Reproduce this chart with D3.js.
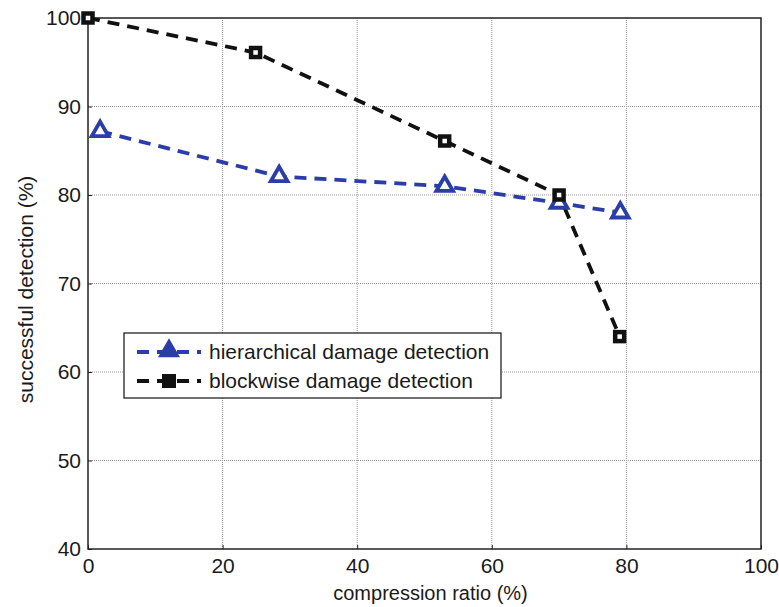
<!DOCTYPE html>
<html>
<head>
<meta charset="utf-8">
<script src="https://cdn.jsdelivr.net/npm/d3@7"></script>
<style>
  body { margin: 0; background: #fff; }
  text { font-family: "Liberation Sans", Arial, sans-serif; fill: #1a1a1a; }
</style>
</head>
<body>
<div id="chart"></div>
<script>
// donnees
let xTicks = [0, 20, 40, 60, 80, 100];
let yTicks = [40, 50, 60, 70, 80, 90, 100];

let hierX = [1.8, 28.4, 53, 70, 79.1];
let hierY = [87.2, 82.1, 81.0, 79.1, 78.0];

let blockX = [0, 24.9, 53, 70, 79];
let blockY = [100, 96.1, 86.1, 80.0, 64.0];

let seriesNames = ['hierarchical damage detection', 'blockwise damage detection'];

let blue = '#2b3da8';
let black = '#111';
let fontSize = '21px';

let width = 779, height = 607;
let margin = {left: 88, right: 18, top: 18, bottom: 58};

let svg = d3.select('#chart').append('svg')
    .attr('width', width)
    .attr('height', height);

let x = d3.scaleLinear().domain([0, 100]).range([margin.left, width - margin.right]);
let y = d3.scaleLinear().domain([40, 100]).range([height - margin.bottom, margin.top]);

// grille
svg.append('g').selectAll('line.gx')
    .data(xTicks.slice(1, -1))
    .join('line')
    .attr('x1', d => x(d)).attr('x2', d => x(d))
    .attr('y1', y(40)).attr('y2', y(100))
    .attr('stroke', '#999').attr('stroke-width', 1)
    .attr('stroke-dasharray', '1,1');

svg.append('g').selectAll('line.gy')
    .data(yTicks.slice(1, -1))
    .join('line')
    .attr('x1', x(0)).attr('x2', x(100))
    .attr('y1', d => y(d)).attr('y2', d => y(d))
    .attr('stroke', '#999').attr('stroke-width', 1)
    .attr('stroke-dasharray', '1,1');

// axes
let xAxis = d3.axisBottom(x).tickValues(xTicks).tickSize(-4).tickPadding(9);
let yAxis = d3.axisLeft(y).tickValues(yTicks).tickSize(-4).tickPadding(7);

let gx = svg.append('g')
    .attr('transform', 'translate(0,' + y(40) + ')')
    .call(xAxis);
let gy = svg.append('g')
    .attr('transform', 'translate(' + x(0) + ',0)')
    .call(yAxis);

[gx, gy].forEach(g => {
    g.select('.domain').remove();
    g.selectAll('text').style('font-size', fontSize).attr('fill', '#1a1a1a')
        .style('font-family', '"Liberation Sans", Arial, sans-serif');
    g.selectAll('line').attr('stroke', '#222');
});

// cadre
svg.append('rect')
    .attr('x', x(0)).attr('y', y(100))
    .attr('width', x(100) - x(0)).attr('height', y(40) - y(100))
    .attr('fill', 'none').attr('stroke', '#222').attr('stroke-width', 1.5);

// titres des axes
svg.append('text')
    .attr('x', (x(0) + x(100)) / 2 + 6).attr('y', 600)
    .attr('text-anchor', 'middle')
    .style('font-size', '20px')
    .text('compression ratio (%)');

svg.append('text')
    .attr('transform', 'translate(33,' + (y(70) + 6) + ') rotate(-90)')
    .attr('text-anchor', 'middle')
    .style('font-size', fontSize)
    .text('successful detection (%)');

// courbes
let line = d3.line().x(d => x(d[0])).y(d => y(d[1]));

let hier = hierX.map((v, i) => [v, hierY[i]]);
let block = blockX.map((v, i) => [v, blockY[i]]);

svg.append('path')
    .datum(hier)
    .attr('d', line)
    .attr('fill', 'none').attr('stroke', blue)
    .attr('stroke-width', 3.8).attr('stroke-dasharray', '12,8');

svg.append('path')
    .datum(block)
    .attr('d', line)
    .attr('fill', 'none').attr('stroke', black)
    .attr('stroke-width', 3.8).attr('stroke-dasharray', '12,8');

let tri = d3.symbol().type(d3.symbolTriangle).size(120);

function drawTriangles(g, pts) {
    g.selectAll('path.tri')
        .data(pts)
        .join('path')
        .attr('transform', d => 'translate(' + x(d[0]) + ',' + y(d[1]) + ')')
        .attr('d', tri)
        .attr('fill', '#fff').attr('stroke', blue).attr('stroke-width', 3.8);
}

function drawSquares(g, pts) {
    g.selectAll('rect.sq')
        .data(pts)
        .join('rect')
        .attr('x', d => x(d[0]) - 4.5).attr('y', d => y(d[1]) - 4.5)
        .attr('width', 9).attr('height', 9)
        .attr('fill', '#fff').attr('stroke', black).attr('stroke-width', 4.5);
}

drawTriangles(svg.append('g'), hier);
drawSquares(svg.append('g'), block);

// legende
let leg = svg.append('g');
leg.append('rect')
    .attr('x', 124).attr('y', 333)
    .attr('width', 377).attr('height', 65)
    .attr('fill', '#fff').attr('stroke', '#111').attr('stroke-width', 1.2);

let rows = [
    {name: seriesNames[0], color: blue, type: 'tri', cy: 352},
    {name: seriesNames[1], color: black, type: 'sq', cy: 381}
];

rows.forEach(r => {
    leg.append('line')
        .attr('x1', 137).attr('x2', 201)
        .attr('y1', r.cy).attr('y2', r.cy)
        .attr('stroke', r.color).attr('stroke-width', 3.8)
        .attr('stroke-dasharray', '12,8');
    if (r.type === 'tri') {
        leg.append('path')
            .attr('transform', 'translate(169,' + (r.cy - 1) + ')')
            .attr('d', d3.symbol().type(d3.symbolTriangle).size(150))
            .attr('fill', r.color).attr('stroke', r.color).attr('stroke-width', 2);
    } else {
        leg.append('rect')
            .attr('x', 162).attr('y', r.cy - 7)
            .attr('width', 14).attr('height', 14)
            .attr('fill', r.color);
    }
    leg.append('text')
        .attr('x', 209).attr('y', r.cy + 7)
        .style('font-size', fontSize)
        .text(r.name);
});
</script>
</body>
</html>
